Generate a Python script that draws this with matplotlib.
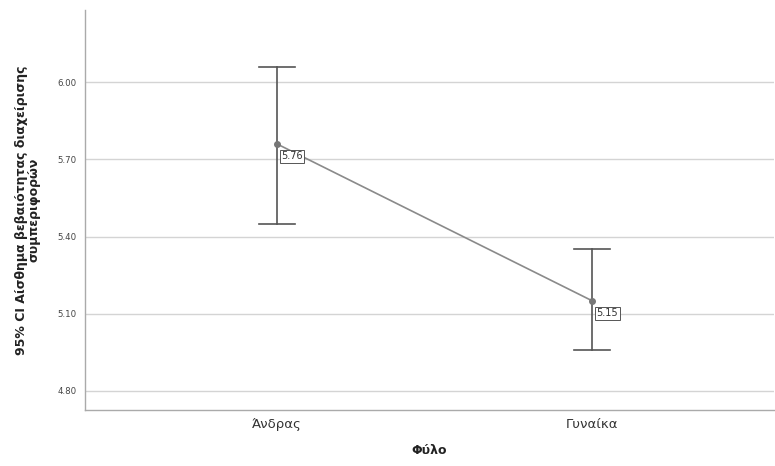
import matplotlib
matplotlib.use("Agg")
import matplotlib.pyplot as plt

categories = ["Άνδρας", "Γυναίκα"]
means = [5.76, 5.15]
ci_low = [5.45, 4.96]
ci_high = [6.06, 5.35]
mean_labels = ["5.76", "5.15"]
yticks = [4.80, 5.10, 5.40, 5.70, 6.00]

plt.rcParams['font.family'] = ['DejaVu Sans']
fig = plt.figure(figsize=(7.75, 4.66), dpi=100)
ax = fig.add_axes([0.1097, 0.1202, 0.889, 0.8583])

x = list(range(len(categories)))
for xi, lo, hi in zip(x, ci_low, ci_high):
    ax.plot([xi, xi], [lo, hi], color="#555555", lw=1.2, zorder=3)
    ax.plot([xi - 0.057, xi + 0.057], [lo, lo], color="#555555", lw=1.2, zorder=3)
    ax.plot([xi - 0.057, xi + 0.057], [hi, hi], color="#555555", lw=1.2, zorder=3)
ax.plot(x, means, color="#8a8a8a", lw=1.2, marker="o", ms=4, mfc="#777777", mec="#777777", zorder=4)
for xi, m, lab in zip(x, means, mean_labels):
    ax.annotate(lab, (xi, m), xytext=(3, -9), textcoords="offset points", fontsize=7,
                va="center", ha="left", color="#333333", zorder=5,
                bbox=dict(boxstyle="square,pad=0.15", fc="white", ec="#555555", lw=0.7))

ax.set_xlim(-0.608, 1.576)
ax.set_ylim(4.726, 6.28)
ax.set_yticks(yticks)
ax.set_yticklabels([f"{t:.2f}" for t in yticks], fontsize=6.2, color="#444444")
ax.set_xticks(x)
ax.set_xticklabels(categories, fontsize=9.5, color="#333333")
ax.tick_params(axis="both", length=0, pad=6)
ax.tick_params(axis="y", pad=6)
ax.grid(axis="y", color="#d4d4d4", lw=1)
ax.set_axisbelow(True)
for s in ["top", "right"]:
    ax.spines[s].set_visible(False)
for s in ["left", "bottom"]:
    ax.spines[s].set_color("#aaaaaa")
    ax.spines[s].set_linewidth(1)
ax.set_xlabel("Φύλο", fontsize=9, fontweight="bold", color="#222222", labelpad=9)
ax.set_ylabel("95% CI Αίσθημα βεβαιότητας διαχείρισης\nσυμπεριφορών", fontsize=9,
              fontweight="bold", color="#222222", labelpad=12, linespacing=0.95)
fig.savefig("out.png", dpi=100)
